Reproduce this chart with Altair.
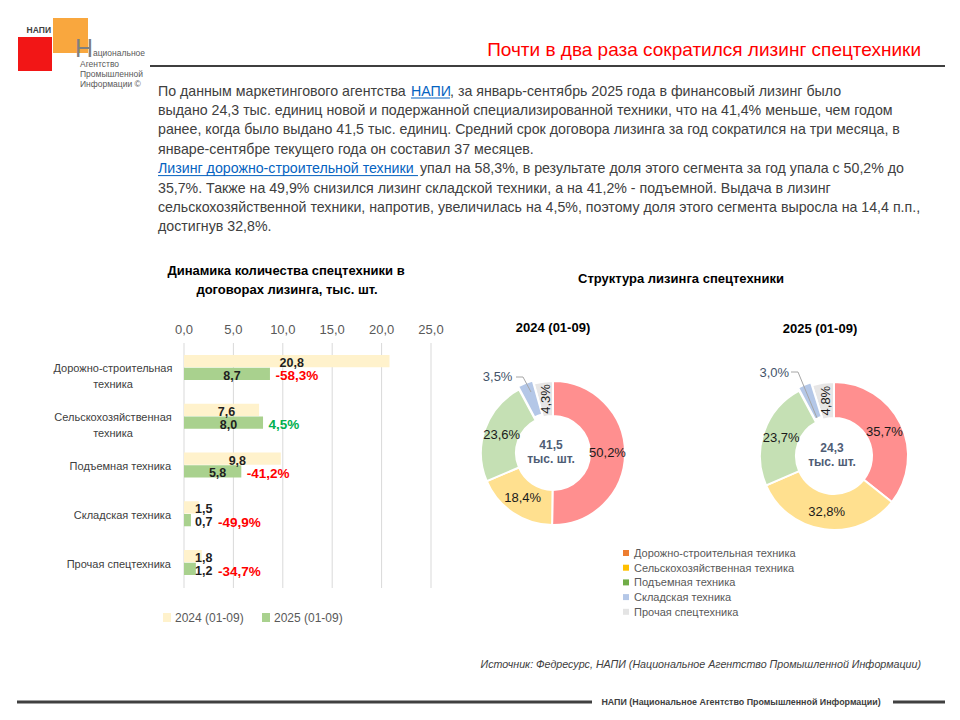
import math
import altair as alt
import pandas as pd

OFF = 8
FONT = "Liberation Sans"
NARROW = "Liberation Sans Narrow, Liberation Sans"

# ---------------- data ----------------
categories = ["Дорожно-строительная техника", "Сельскохозяйственная техника",
              "Подъемная техника", "Складская техника", "Прочая спецтехника"]
cat_labels = ["Дорожно-строительная\nтехника", "Сельскохозяйственная\nтехника",
              "Подъемная техника", "Складская техника", "Прочая спецтехника"]
v2024 = [20.8, 7.6, 9.8, 1.5, 1.8]
v2025 = [8.7, 8.0, 5.8, 0.7, 1.2]
change = [-58.3, 4.5, -41.2, -49.9, -34.7]
years = ["2024 (01-09)", "2025 (01-09)"]
ticks = [0, 5, 10, 15, 20, 25]
tick_labels = ["0,0", "5,0", "10,0", "15,0", "20,0", "25,0"]

segments = ["Дорожно-строительная техника", "Сельскохозяйственная  техника",
            "Подъемная техника", "Складская техника", "Прочая спецтехника"]
share2024 = [50.2, 18.4, 23.6, 3.5, 4.3]
share2025 = [35.7, 32.8, 23.7, 3.0, 4.8]
totals = [41.5, 24.3]

bar_colors = ["#FFF2CC", "#A9D18E"]
slice_colors = ["#FF8F8F", "#FFE08F", "#C5E0B4", "#B4C7E7", "#E7E6E6"]
legend_colors = ["#ED7D31", "#FFC000", "#70AD47", "#B4C7E7", "#E4E4E4"]

paragraph = [
    [("По данным маркетингового агентства ", 158, False), ("НАПИ", 411, True),
     (", за январь-сентябрь 2025 года в финансовый лизинг было", 450, False)],
    [("выдано 24,3 тыс. единиц новой и подержанной специализированной техники, что на 41,4% меньше, чем годом", 158, False)],
    [("ранее, когда было выдано 41,5 тыс. единиц. Средний срок договора лизинга за год сократился на три месяца, в", 158, False)],
    [("январе-сентябре текущего года он составил 37 месяцев.", 158, False)],
    [("Лизинг дорожно-строительной техники ", 158, True),
     ("упал на 58,3%,  в результате доля этого сегмента за год упала с 50,2% до", 420, False)],
    [("35,7%. Также на 49,9% снизился лизинг складской техники, а на 41,2% - подъемной. Выдача в лизинг", 158, False)],
    [("сельскохозяйственной техники, напротив, увеличилась на 4,5%, поэтому доля этого сегмента выросла на 14,4 п.п.,", 158, False)],
    [("достигнув 32,8%.", 158, False)],
]
link_ends = {0: (411, 450), 4: (158, 418)}


def blank():
    return alt.Chart(alt.Data(values=[{}]))


def T(text, x, y, size=12, color="#404040", weight="normal", align="left",
      baseline="alphabetic", font=FONT, style="normal", angle=0):
    return blank().mark_text(text=text, font=font, fontSize=size, color=color,
                             fontWeight=weight, align=align, baseline=baseline,
                             fontStyle=style, angle=angle).encode(
        x=alt.value(x - OFF), y=alt.value(y - OFF))


def R(x1, y1, x2, y2, color="#404040", width=1):
    return blank().mark_rule(color=color, strokeWidth=width).encode(
        x=alt.value(x1 - OFF), y=alt.value(y1 - OFF),
        x2=alt.value(x2 - OFF), y2=alt.value(y2 - OFF))


def B(x1, y1, x2, y2, color):
    return blank().mark_rect(color=color).encode(
        x=alt.value(x1 - OFF), y=alt.value(y1 - OFF),
        x2=alt.value(x2 - OFF), y2=alt.value(y2 - OFF))


def fmt(expr):
    return f"(({expr}) < 0 ? '-' : '') + replace(format(abs({expr}), '.1f'), '.', ',')"


layers = []

# ---------------- logo ----------------
layers += [
    B(18, 37, 52, 71, "#F21616"),
    B(53, 18, 88, 53, "#F9A73E"),
    T("НАПИ", 51, 33, size=8.5, weight="bold", align="right", font=NARROW, color="#404040"),
    T("Н", 75, 56.5, size=25, font=NARROW, color="#7F7F7F"),
    T("ациональное", 93, 55.5, size=8.5, font=NARROW, color="#595959"),
    T("Агентство", 80, 67, size=8.5, font=NARROW, color="#595959"),
    T("Промышленной", 80, 77, size=8.5, font=NARROW, color="#595959"),
    T("Информации ©", 80, 87, size=8.5, font=NARROW, color="#595959"),
]

# ---------------- header ----------------
layers += [
    T("Почти в два раза сократился лизинг спецтехники", 921, 56, size=19,
      color="#FF0000", align="right", font=NARROW),
    R(150, 66, 945, 66, color="#3F3F3F", width=2),
]

# ---------------- paragraph ----------------
LINK = "#0563C1"
for i, segs in enumerate(paragraph):
    base_y = 95.5 + 19.4 * i
    for text, x, is_link in segs:
        layers.append(T(text, x, base_y, size=14.2, color=LINK if is_link else "#404040"))
    if i in link_ends:
        a, b = link_ends[i]
        layers.append(R(a, base_y + 2.5, b, base_y + 2.5, color=LINK, width=1))

# ---------------- bar chart ----------------
bar_df = pd.DataFrame({"cat": categories, "label": cat_labels,
                       "a": v2024, "b": v2025, "chg": change})
xs = alt.Scale(domain=[0, 25], range=[184 - OFF, 431 - OFF])
ys = alt.Scale(domain=categories, range=[330.6 - OFF, 599.4 - OFF],
               paddingInner=0.487, paddingOuter=0.5)
yo = alt.Scale(domain=years, paddingInner=0.04)
bcol = alt.Scale(domain=years, range=bar_colors)

bbase = alt.Chart(bar_df)
long = bbase.transform_fold(["a", "b"], as_=["key", "value"]).transform_calculate(
    year="datum.key == 'a' ? '2024 (01-09)' : '2025 (01-09)'")

tick_df = pd.DataFrame({"t": ticks, "lab": tick_labels})
grid = alt.Chart(tick_df).mark_rule(color="#D9D9D9", strokeWidth=1).encode(
    x=alt.X("t:Q", scale=xs, axis=None),
    y=alt.value(343 - OFF), y2=alt.value(588 - OFF))
tick_text = alt.Chart(tick_df).mark_text(font=FONT, fontSize=13, color="#595959",
                                         baseline="alphabetic").encode(
    x=alt.X("t:Q", scale=xs, axis=None), y=alt.value(334 - OFF), text="lab:N")

bars = long.mark_bar().encode(
    x=alt.X("value:Q", scale=xs, axis=None),
    y=alt.Y("cat:N", scale=ys, axis=None),
    yOffset=alt.YOffset("year:N", scale=yo),
    color=alt.Color("year:N", scale=bcol, legend=None))

val_text = long.transform_calculate(
    lx="max(datum.value / 2 + 0.5, 2.0)",
    lbl=fmt("datum.value")).mark_text(
    font=FONT, fontSize=12.5, fontWeight="bold", color="#1F1F1F", dy=2).encode(
    x=alt.X("lx:Q", scale=xs, axis=None),
    y=alt.Y("cat:N", scale=ys, axis=None),
    yOffset=alt.YOffset("year:N", scale=yo),
    text="lbl:N")

pct_text = bbase.transform_calculate(
    px="max(datum.b + 0.55, 3.45)",
    lbl=fmt("datum.chg") + " + '%'").mark_text(
    font=FONT, fontSize=13.5, fontWeight="bold", align="left", dy=9).encode(
    x=alt.X("px:Q", scale=xs, axis=None),
    y=alt.Y("cat:N", scale=ys, axis=None),
    text="lbl:N",
    color=alt.condition("datum.chg > 0", alt.value("#00B050"), alt.value("#FF0000")))

cat_single = bbase.transform_filter("indexof(datum.label, '\\n') < 0").mark_text(
    font=FONT, fontSize=11, color="#404040", align="right", dy=2).encode(
    x=alt.value(171 - OFF), y=alt.Y("cat:N", scale=ys, axis=None), text="label:N")
cat_multi = bbase.transform_filter("indexof(datum.label, '\\n') >= 0").mark_text(
    font=FONT, fontSize=11, color="#404040", align="center", dy=2,
    lineBreak="\n", lineHeight=15.5).encode(
    x=alt.value(113 - OFF), y=alt.Y("cat:N", scale=ys, axis=None), text="label:N")

bar_group = alt.layer(grid, tick_text, bars, val_text, pct_text, cat_single, cat_multi)
layers.append(bar_group)

layers += [
    T("Динамика количества спецтехники в", 286, 275, size=13, weight="bold", align="center", color="#000000"),
    T("договорах лизинга, тыс. шт.", 287, 294, size=13, weight="bold", align="center", color="#000000"),
    B(163, 613, 171, 622, bar_colors[0]),
    T(years[0], 175, 622, size=12, color="#595959"),
    B(262, 613, 270, 622, bar_colors[1]),
    T(years[1], 274, 622, size=12, color="#595959"),
]

# ---------------- donuts ----------------
ts = alt.Scale(domain=[0, 100], range=[0, 2 * math.pi])
cs = alt.Scale(domain=segments, range=slice_colors)


def donut(shares, total, cx, cy, r_in, r_out, blue_shift, blue_off, leader):
    df = pd.DataFrame({"seg": segments, "share": shares, "idx": list(range(len(segments)))})
    base = alt.Chart(df).transform_stack(
        stack="share", as_=["s0", "s1"], groupby=[],
        sort=[alt.SortField("idx", order="ascending")]).transform_calculate(
        mid="(datum.s0 + datum.s1) / 2",
        lbl=fmt("datum.share") + " + '%'")

    def arc(filt, dx=0, dy=0):
        return base.transform_filter(filt).mark_arc(
            innerRadius=r_in, outerRadius=r_out, stroke="white", strokeWidth=2).encode(
            theta=alt.Theta("s0:Q", scale=ts), theta2="s1:Q",
            color=alt.Color("seg:N", scale=cs, legend=None),
            x=alt.value(cx - OFF + dx), y=alt.value(cy - OFF + dy))

    r_mid = (r_in + r_out) / 2
    main_lbl = base.transform_filter("datum.idx <= 2").mark_text(
        radius=r_mid, font=FONT, fontSize=13, color="#1A1A1A").encode(
        theta=alt.Theta("mid:Q", scale=ts), text="lbl:N",
        x=alt.value(cx - OFF), y=alt.value(cy - OFF))
    gray_lbl = base.transform_filter("datum.idx == 4").mark_text(
        radius=r_mid, angle=270, font=FONT, fontSize=13, color="#1A1A1A").encode(
        theta=alt.Theta("mid:Q", scale=ts), text="lbl:N",
        x=alt.value(cx - OFF), y=alt.value(cy - OFF))
    blue_lbl = base.transform_filter("datum.idx == 3").mark_text(
        radius=90, font=FONT, fontSize=13, color="#44546A",
        dx=blue_off[0], dy=blue_off[1]).encode(
        theta=alt.Theta("mid:Q", scale=ts), text="lbl:N",
        x=alt.value(cx - OFF), y=alt.value(cy - OFF))
    tot_df = pd.DataFrame({"total": [total]})
    tot = alt.Chart(tot_df).transform_calculate(
        t=fmt("datum.total")).mark_text(
        font=FONT, fontSize=12, fontWeight="bold", color="#4F5D75",
        baseline="alphabetic").encode(
        text="t:N", x=alt.value(cx - 2 - OFF), y=alt.value(cy - 4 - OFF))
    (p0, p1, p2) = leader
    group = alt.layer(
        arc("datum.idx != 3"), arc("datum.idx == 3", *blue_shift),
        main_lbl, gray_lbl, blue_lbl, tot)
    extra = [
        T("тыс. шт.", cx - 2, cy + 10, size=12, weight="bold", align="center", color="#4F5D75"),
        R(p0[0], p0[1], p1[0], p1[1], color="#A6A6A6", width=1),
        R(p1[0], p1[1], p2[0], p2[1], color="#A6A6A6", width=1),
    ]
    return group, extra


g1, e1 = donut(share2024, totals[0], 553, 453, 37, 72, (-1, -3), (-22, 8),
               ((516, 377), (523, 377), (531, 392)))
g2, e2 = donut(share2025, totals[1], 834, 456, 38, 74, (-1, -3), (-25, 0),
               ((791, 372), (798, 372), (817, 418)))

layers += [
    T("Структура лизинга спецтехники", 681, 283, size=13, weight="bold", align="center", color="#000000"),
    T("2024 (01-09)", 553, 332, size=13, weight="bold", align="center", color="#000000"),
    T("2025 (01-09)", 820, 333, size=13, weight="bold", align="center", color="#000000"),
]

# pie legend
for i, name in enumerate(segments):
    cy = 553 + 14.7 * i
    layers.append(B(623, cy - 3, 629, cy + 3, legend_colors[i]))
    layers.append(T(name, 634, cy + 4, size=11, color="#595959"))

# ---------------- footer ----------------
layers += [
    T("Источник: Федресурс, НАПИ (Национальное Агентство Промышленной Информации)",
      921, 668, size=10.7, style="italic", align="right", color="#404040"),
    R(17, 702, 592, 702, color="#404040", width=3),
    T("НАПИ (Национальное Агентство Промышленной Информации)", 741, 705,
      size=8.9, weight="bold", align="center", color="#404040"),
    R(893, 702, 945, 702, color="#404040", width=3),
]

layers = layers + [g1, g2] + e1 + e2

chart = alt.layer(*layers).resolve_scale(
    x="independent", y="independent", color="independent",
    theta="independent", yOffset="independent"
).properties(
    width=944, height=704, padding=0,
    autosize=alt.AutoSizeParams(type="none"),
    background="white",
).configure_view(stroke=None)

chart.save("out.html", embed_options={"renderer": "svg", "actions": False})
